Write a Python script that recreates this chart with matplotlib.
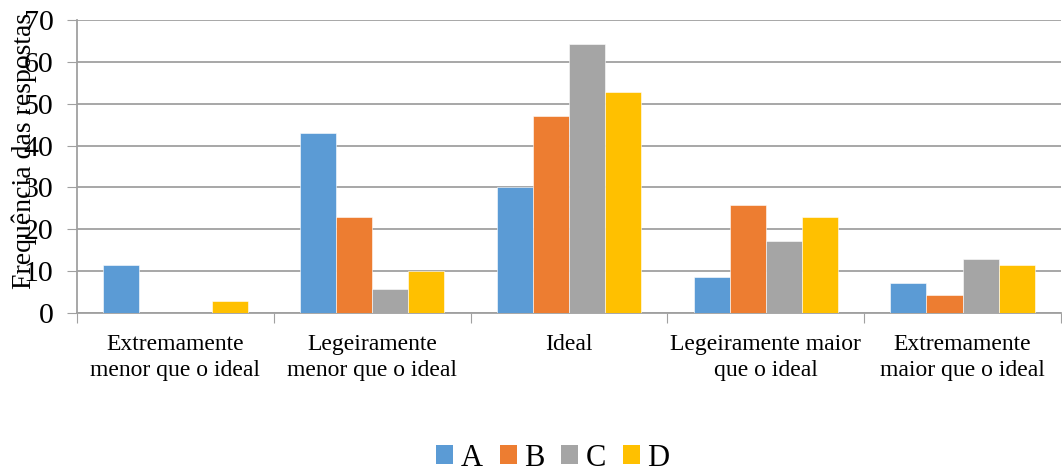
import matplotlib
matplotlib.use("Agg")
import matplotlib.pyplot as plt
import numpy as np
from matplotlib.patches import Patch

plt.rcParams['font.family'] = ['Liberation Serif', 'DejaVu Serif']

categories = ["Extremamente\nmenor que o ideal", "Legeiramente\nmenor que o ideal", "Ideal",
              "Legeiramente maior\nque o ideal", "Extremamente\nmaior que o ideal"]
series_names = ["A", "B", "C", "D"]
A = [11.4, 42.9, 30.0, 8.6, 7.1]
B = [0.0, 22.9, 47.1, 25.7, 4.3]
C = [0.0, 5.7, 64.3, 17.1, 12.9]
D = [2.9, 10.0, 52.9, 22.9, 11.4]
series = [A, B, C, D]
colors = ["#5B9BD5", "#ED7D31", "#A5A5A5", "#FFC000"]
yticks = [0, 10, 20, 30, 40, 50, 60, 70]

W, H = 1062, 473
fig = plt.figure(figsize=(W / 100, H / 100), dpi=100)
ax = fig.add_axes([77 / W, 1 - 313 / H, (1061 - 77) / W, (313 - 20) / H])

x = np.arange(len(categories))
bw = 1 / 5.45
for i, (vals, col) in enumerate(zip(series, colors)):
    ax.bar(x + (i - 1.5) * bw, vals, width=bw, color=col, edgecolor='white', linewidth=0.4, zorder=3)

ax.set_xlim(-0.5, len(categories) - 0.5)
ax.set_ylim(0, 70)
ax.set_yticks(yticks)
ax.set_yticklabels([str(t) for t in yticks], fontsize=21.5)
ax.yaxis.grid(True, color='#a0a0a0', linewidth=1.3, zorder=0)
ax.set_axisbelow(True)

ax.set_xticks(np.arange(-0.5, len(categories), 1.0))
ax.set_xticklabels([])
ax.set_xticks(x, minor=True)
ax.set_xticklabels(categories, minor=True, fontsize=17, linespacing=1.3)
ax.tick_params(axis='x', which='minor', length=0, pad=15)
ax.tick_params(axis='x', which='major', length=7, color='#a0a0a0', direction='out')
ax.tick_params(axis='y', length=7, color='#a0a0a0', direction='out', pad=10)

for s in ['top', 'right']:
    ax.spines[s].set_visible(False)
ax.spines['left'].set_color('#a0a0a0')
ax.spines['bottom'].set_color('#a0a0a0')
ax.spines['left'].set_linewidth(1.3)
ax.spines['bottom'].set_linewidth(1.3)

ax.set_ylabel("Frequência das respostas", fontsize=20)
ax.yaxis.set_label_coords(-0.041, 0.553)

handles = [Patch(facecolor=c, label=n) for c, n in zip(colors, series_names)]
fig.legend(handles=handles, loc='center', bbox_to_anchor=(553 / W, 1 - 458 / H), ncol=4, frameon=False,
           fontsize=22, handlelength=0.55, handleheight=0.55, handletextpad=0.25, columnspacing=0.55,
           borderpad=0, borderaxespad=0)

fig.savefig("out.png", dpi=100)
